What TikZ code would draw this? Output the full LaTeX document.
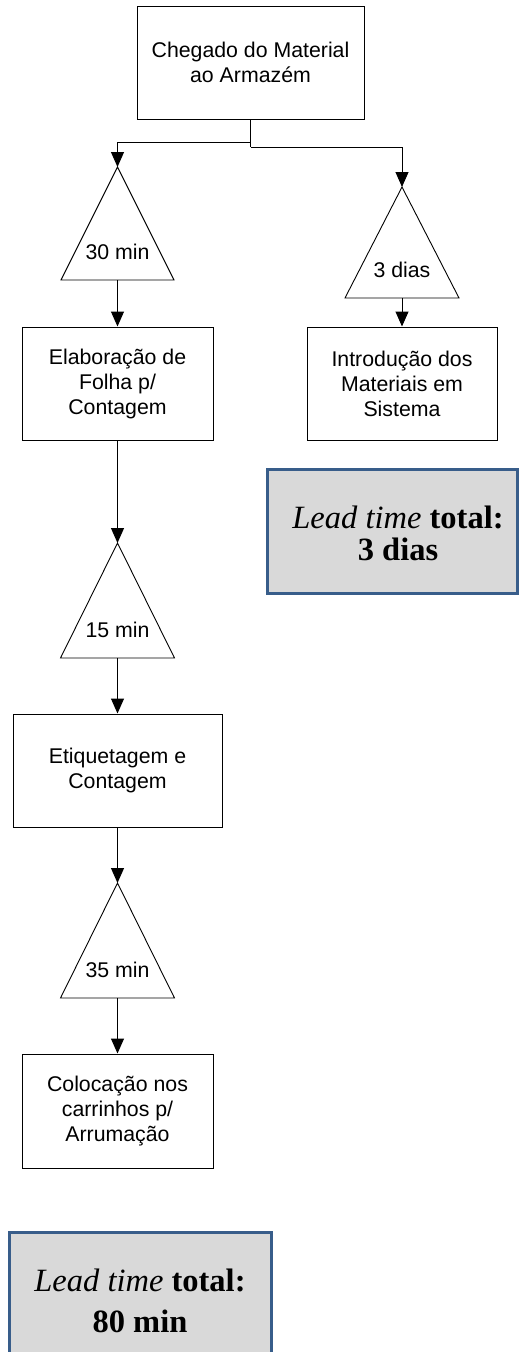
\documentclass[tikz,border=0pt]{standalone}
\usepackage{fontspec}
\setmainfont{Liberation Sans}
\newfontfamily\leadfont{Liberation Serif}
\usetikzlibrary{arrows.meta,calc}
\definecolor{leadblue}{HTML}{385D8A}
\definecolor{leadfill}{HTML}{D9D9D9}

\begin{document}
\begin{tikzpicture}[x=1pt,y=-1pt,
  stepbox/.style={draw=black, line width=1pt, fill=white, inner sep=0pt,
    minimum height=113pt, align=center,
    font=\fontsize{21.3}{25}\selectfont},
  waitlbl/.style={inner sep=0pt, font=\fontsize{21.3}{25}\selectfont},
  waittri/.style={draw=black, line width=0.9pt},
  conn/.style={draw=black, line width=1pt, -{Triangle[length=15pt,width=13pt]}},
  plain/.style={draw=black, line width=1pt},
  leadbox/.style={draw=leadblue, line width=3pt, fill=leadfill},
  leadtxt/.style={inner sep=0pt, align=center}
]
\useasboundingbox (0,0) rectangle (519,1352);

% process steps
\node[stepbox, minimum width=227pt] (chg) at (250.5,62.5) {Chegado do Material\\ao Armazém};
\node[stepbox, minimum width=191pt] (elab) at (117.5,383.5) {Elaboração de\\Folha p/\\Contagem};
\node[stepbox, minimum width=190pt] (intro) at (402,383.5) {Introdução dos\\Materiais em\\Sistema};
\node[stepbox, minimum width=209pt] (etiq) at (117.5,770.5) {Etiquetagem e\\Contagem};
\node[stepbox, minimum width=191pt, minimum height=114pt] (coloc) at (117.5,1111) {Colocação nos\\carrinhos p/\\Arrumação};

% waiting triangles: apex and base-centre coordinates
\coordinate (w1a) at (117.5,167);  \coordinate (w1b) at (117.5,280);
\coordinate (w2a) at (402,187);    \coordinate (w2b) at (402,298);
\coordinate (w3a) at (117.5,543);  \coordinate (w3b) at (117.5,658);
\coordinate (w4a) at (117.5,883);  \coordinate (w4b) at (117.5,998);

\draw[waittri] (w1a) -- ($(w1b)+(-56.5,0)$) -- ($(w1b)+(56.5,0)$) -- cycle;
\draw[waittri] (w2a) -- ($(w2b)+(-57,0)$) -- ($(w2b)+(57,0)$) -- cycle;
\draw[waittri] (w3a) -- ($(w3b)+(-57,0)$) -- ($(w3b)+(57,0)$) -- cycle;
\draw[waittri] (w4a) -- ($(w4b)+(-57,0)$) -- ($(w4b)+(57,0)$) -- cycle;

\node[waitlbl] (w1) at (117.5,252) {30 min};
\node[waitlbl] (w2) at (402,270) {3 dias};
\node[waitlbl] (w3) at (117.5,630) {15 min};
\node[waitlbl] (w4) at (117.5,970) {35 min};

% connectors
\coordinate (j1) at (250.5,142);
\coordinate (j2) at (250.5,147);
\draw[plain] (chg.south) -- (j2);
\draw[conn] (j1) -| (w1a);
\draw[conn] (j2) -| (w2a);
\draw[conn] (w1b) -- (elab.north);
\draw[conn] (w2b) -- (intro.north);
\draw[conn] (elab.south) -- (w3a);
\draw[conn] (w3b) -- (etiq.north);
\draw[conn] (etiq.south) -- (w4a);
\draw[conn] (w4b) -- (coloc.north);

% lead time summaries
\draw[leadbox] (267,469) rectangle (517.5,593);
\node[leadtxt, font=\leadfont\fontsize{32.5}{32}\selectfont] (lt1) at (398,533)
  {\textit{Lead time} \textbf{total:}\\\textbf{3 dias}};
\draw[leadbox] (9,1232) rectangle (271,1370);
\node[leadtxt, font=\leadfont\fontsize{32.5}{41.5}\selectfont] (lt2) at (140,1301)
  {\textit{Lead time} \textbf{total:}\\\textbf{80 min}};
\end{tikzpicture}
\end{document}
